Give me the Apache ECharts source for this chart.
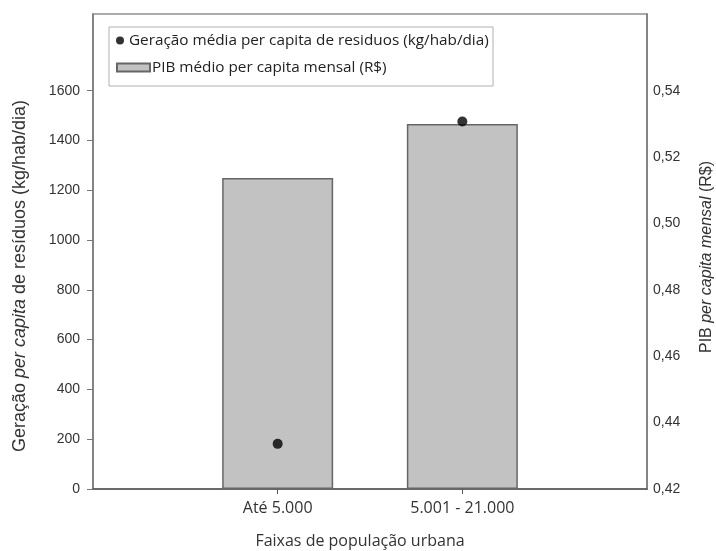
<!DOCTYPE html>
<html>
<head>
<meta charset="utf-8">
<script src="https://cdn.jsdelivr.net/npm/echarts@6/dist/echarts.min.js"></script>
<style>html,body{margin:0;padding:0;background:#fff}#c{width:716px;height:551px}</style>
</head>
<body>
<div id="c"></div>
<script>
const categories = ['', 'Até 5.000', '5.001 - 21.000', ''];
const pibValues = [null, 1249, 1466, null];
const geracaoValues = [null, 0.4336, 0.5307, null];
const leftTicks = [0, 200, 400, 600, 800, 1000, 1200, 1400, 1600];
const rightTicks = [0.42, 0.44, 0.46, 0.48, 0.50, 0.52, 0.54];
const seriesNames = ['Geração média per capita de residuos (kg/hab/dia)', 'PIB médio per capita mensal (R$)'];

const chart = echarts.init(document.getElementById('c'));
const sans = 'Open Sans';
const arial = 'Liberation Sans';
chart.setOption({
  animation: false,
  backgroundColor: '#fff',
  grid: { left: 93, right: 69, top: 14, bottom: 62, show: true, borderColor: '#909090', borderWidth: 1.5 },
  legend: [
    { data: [seriesNames[0]], orient: 'vertical', left: 116, top: 33, padding: 0,
      itemWidth: 8, itemHeight: 8, icon: 'circle',
      textStyle: { fontFamily: sans, fontSize: 15.3, color: '#222' } },
    { data: [seriesNames[1]], orient: 'vertical', left: 116, top: 60, padding: 0,
      itemWidth: 33, itemHeight: 8, icon: 'rect',
      textStyle: { fontFamily: sans, fontSize: 15.3, color: '#222', padding: [0, 0, 0, -3] } }
  ],
  xAxis: {
    type: 'category', data: categories, boundaryGap: false,
    axisLine: { lineStyle: { color: '#555', width: 1.5 } },
    axisTick: { show: true, length: 5, interval: (i, v) => v !== '', lineStyle: { color: '#555' } },
    axisLabel: { fontFamily: sans, fontSize: 16, color: '#333', margin: 11, interval: 0 },
    splitLine: { show: false }
  },
  yAxis: [
    { type: 'value', min: 0, max: 1908, interval: 200, position: 'left',
      axisLine: { show: true, lineStyle: { color: '#777', width: 1.5 } },
      axisTick: { show: true, length: 6, customValues: leftTicks, lineStyle: { color: '#777' } },
      axisLabel: { customValues: leftTicks, fontFamily: arial, fontSize: 14, color: '#333', margin: 13,
        formatter: v => String(v) },
      splitLine: { show: false } },
    { type: 'value', min: 0.42, max: 0.5631, position: 'right',
      axisLine: { show: true, lineStyle: { color: '#777', width: 1.5 } },
      axisTick: { show: false },
      axisLabel: { customValues: rightTicks, fontFamily: arial, fontSize: 14, color: '#333', margin: 6,
        formatter: v => v.toFixed(2).replace('.', ',') },
      splitLine: { show: false } }
  ],
  series: [
    { name: seriesNames[1], type: 'bar', yAxisIndex: 0, data: pibValues, barWidth: 111,
      itemStyle: { color: '#c2c2c2', borderColor: '#666', borderWidth: 1.5 }, z: 2 },
    { name: seriesNames[0], type: 'scatter', yAxisIndex: 1, data: geracaoValues, symbol: 'circle', symbolSize: 10,
      itemStyle: { color: '#000' }, z: 5 }
  ],
  graphic: [
    { type: 'rect', shape: { x: 109, y: 27, width: 384, height: 59 }, style: { fill: '#fff', stroke: '#b0b0b0', lineWidth: 1 }, z: 3 },
    { type: 'text', x: 20, y: 276, rotation: Math.PI / 2,
      style: { text: '{a|Geração }{i|per capita}{a| de resíduos (kg/hab/dia)}', align: 'center', verticalAlign: 'middle',
        rich: { a: { fontFamily: arial, fontSize: 18, fill: '#333' }, i: { fontFamily: arial, fontSize: 18, fontStyle: 'italic', fill: '#333' } } } },
    { type: 'text', x: 707, y: 257, rotation: Math.PI / 2,
      style: { text: '{a|PIB }{i|per capita mensal}{a| (R$)}', align: 'center', verticalAlign: 'middle',
        rich: { a: { fontFamily: arial, fontSize: 16, fill: '#333' }, i: { fontFamily: arial, fontSize: 16, fontStyle: 'italic', fill: '#333' } } } },
    { type: 'text', x: 360, y: 541,
      style: { text: 'Faixas de população urbana', align: 'center', verticalAlign: 'middle', fontFamily: sans, fontSize: 16, fill: '#333' } }
  ]
});
</script>
</body>
</html>
